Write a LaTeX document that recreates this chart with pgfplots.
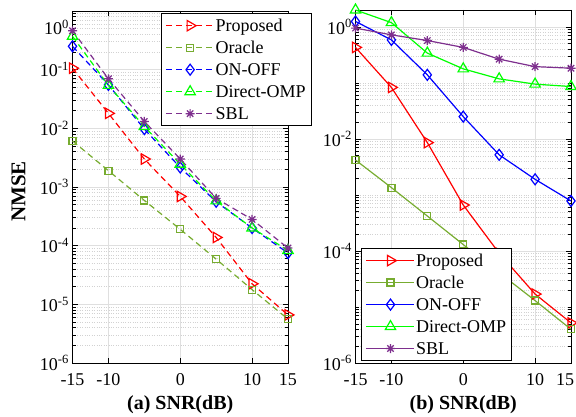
\documentclass[border=0pt]{standalone}
\usepackage{fontspec}
\setmainfont{Liberation Serif}
\usepackage{pgfplots}
\pgfplotsset{compat=1.18}
\definecolor{oracle}{rgb}{0.466,0.674,0.188}
\definecolor{sbl}{rgb}{0.494,0.184,0.556}
\pgfdeclareplotmark{ast8}{%
  \pgfpathmoveto{\pgfqpoint{-\pgfplotmarksize}{0pt}}\pgfpathlineto{\pgfqpoint{\pgfplotmarksize}{0pt}}%
  \pgfpathmoveto{\pgfqpoint{0pt}{-\pgfplotmarksize}}\pgfpathlineto{\pgfqpoint{0pt}{\pgfplotmarksize}}%
  \pgfpathmoveto{\pgfqpoint{-0.707\pgfplotmarksize}{-0.707\pgfplotmarksize}}\pgfpathlineto{\pgfqpoint{0.707\pgfplotmarksize}{0.707\pgfplotmarksize}}%
  \pgfpathmoveto{\pgfqpoint{-0.707\pgfplotmarksize}{0.707\pgfplotmarksize}}\pgfpathlineto{\pgfqpoint{0.707\pgfplotmarksize}{-0.707\pgfplotmarksize}}%
  \pgfusepathqstroke}
\tikzset{
  pprop/.style={red, line width=1.2pt, mark=triangle, mark size=6pt, mark options={solid, rotate=-90}},
  porac/.style={oracle, line width=1.2pt, mark=square, mark size=3.5pt, mark options={solid}},
  ponoff/.style={blue, line width=1.2pt, mark=diamond, mark size=5.5pt, mark options={solid}},
  pomp/.style={green, line width=1.2pt, mark=triangle, mark size=6pt, mark options={solid}},
  psbl/.style={sbl, line width=1.2pt, mark=ast8, mark size=4.5pt, mark options={solid}},
  mydash/.style={dash pattern=on 6pt off 4pt},
}
\begin{document}
\begin{tikzpicture}
\useasboundingbox (0,0) rectangle (576pt,417pt);
\begin{axis}[at={(72.5pt,54pt)}, anchor=south west,
  scale only axis, width=215.5pt, height=352pt,
  ymode=log, xmin=-15, xmax=15, ymin=1e-6, ymax=1,
  clip=false,
  xtick={-15,-10,0,10,15}, xticklabels={-15,-10,0,10,15},
  grid=both,
  major grid style={gray!25, line width=0.6pt},
  minor grid style={gray!35, dotted, line width=0.5pt},
  axis line style={line width=0.8pt},
  tick style={black, line width=0.6pt},
  major tick length=5pt, minor tick length=3pt,
  ticklabel style={font=\fontsize{18}{20}\selectfont},
  xticklabel style={yshift=-7pt},
  legend cell align=left,
  legend image code/.code={\draw[mark repeat=2,mark phase=2] plot coordinates {(0pt,0pt) (24pt,0pt) (48pt,0pt)};},
  legend style={font=\fontsize{18}{20}\selectfont, draw=black, line width=0.8pt, fill=white,
    inner xsep=4.5pt, inner ysep=1pt, nodes={inner xsep=1pt, inner ysep=2.5pt, text height=14.5pt, text depth=2.5pt},
    at={(0.409,0.9935)}, anchor=north west},
  ytick={1e-6,1e-5,1e-4,1e-3,1e-2,1e-1,1},
  yticklabels={10\textsuperscript{-6},10\textsuperscript{-5},10\textsuperscript{-4},10\textsuperscript{-3},10\textsuperscript{-2},10\textsuperscript{-1},\raisebox{-24pt}[0pt][0pt]{10\textsuperscript{0}}},
  minor ytick={2e-6,3e-6,4e-6,5e-6,6e-6,7e-6,8e-6,9e-6,
    2e-5,3e-5,4e-5,5e-5,6e-5,7e-5,8e-5,9e-5,
    2e-4,3e-4,4e-4,5e-4,6e-4,7e-4,8e-4,9e-4,
    2e-3,3e-3,4e-3,5e-3,6e-3,7e-3,8e-3,9e-3,
    2e-2,3e-2,4e-2,5e-2,6e-2,7e-2,8e-2,9e-2,
    2e-1,3e-1,4e-1,5e-1,6e-1,7e-1,8e-1,9e-1},
  xlabel={(a) SNR(dB)}, ylabel={NMSE},
  xlabel style={at={(axis description cs:0.5,-0.119)}, anchor=center, font=\bfseries\fontsize{20}{22}\selectfont},
  ylabel style={at={(axis description cs:-0.2506,0.487)}, anchor=center, font=\bfseries\fontsize{21}{23}\selectfont},
]
\addplot[pprop, mydash] coordinates {(-15,0.106)(-10,0.018)(-5,0.0030)(0,6.9e-4)(5,1.38e-4)(10,2.24e-5)(15,6.6e-6)};
\addlegendentry{Proposed}
\addplot[porac, mydash] coordinates {(-15,6.1e-3)(-10,1.9e-3)(-5,5.9e-4)(0,1.9e-4)(5,5.9e-5)(10,1.78e-5)(15,5.6e-6)};
\addlegendentry{Oracle}
\addplot[ponoff, mydash] coordinates {(-15,0.25)(-10,0.055)(-5,0.0097)(0,2.15e-3)(5,5.6e-4)(10,2.0e-4)(15,7.5e-5)};
\addlegendentry{ON-OFF}
\addplot[pomp, mydash] coordinates {(-15,0.37)(-10,0.054)(-5,0.0107)(0,2.45e-3)(5,5.8e-4)(10,2.0e-4)(15,8.3e-5)};
\addlegendentry{Direct-OMP}
\addplot[psbl, mydash] coordinates {(-15,0.46)(-10,0.070)(-5,0.0131)(0,3.0e-3)(5,6.4e-4)(10,2.8e-4)(15,9.1e-5)};
\addlegendentry{SBL}
\end{axis}
\begin{axis}[at={(355.5pt,54pt)}, anchor=south west,
  scale only axis, width=215.5pt, height=353pt,
  ymode=log, xmin=-15, xmax=15, ymin=1e-6, ymax=2,
  clip=false,
  xtick={-15,-10,0,10,15}, xticklabels={-15,-10,0,10,\hspace*{-12pt}15},
  grid=both,
  major grid style={gray!25, line width=0.6pt},
  minor grid style={gray!35, dotted, line width=0.5pt},
  axis line style={line width=0.8pt},
  tick style={black, line width=0.6pt},
  major tick length=5pt, minor tick length=3pt,
  ticklabel style={font=\fontsize{18}{20}\selectfont},
  xticklabel style={yshift=-7pt},
  legend cell align=left,
  legend image code/.code={\draw[mark repeat=2,mark phase=2] plot coordinates {(0pt,0pt) (24pt,0pt) (48pt,0pt)};},
  legend style={font=\fontsize{18}{20}\selectfont, draw=black, line width=0.8pt, fill=white,
    inner xsep=4.5pt, inner ysep=1pt, nodes={inner xsep=1pt, inner ysep=2.5pt, text height=14.5pt, text depth=2.5pt},
    at={(0.0255,0.0057)}, anchor=south west},
  ytick={1e-6,1e-4,1e-2,1},
  yticklabels={10\textsuperscript{-6},10\textsuperscript{-4},10\textsuperscript{-2},10\textsuperscript{0}},
  minor ytick={2e-6,3e-6,4e-6,5e-6,6e-6,7e-6,8e-6,9e-6,1e-5,
    2e-5,3e-5,4e-5,5e-5,6e-5,7e-5,8e-5,9e-5,
    2e-4,3e-4,4e-4,5e-4,6e-4,7e-4,8e-4,9e-4,1e-3,
    2e-3,3e-3,4e-3,5e-3,6e-3,7e-3,8e-3,9e-3,
    2e-2,3e-2,4e-2,5e-2,6e-2,7e-2,8e-2,9e-2,1e-1,
    2e-1,3e-1,4e-1,5e-1,6e-1,7e-1,8e-1,9e-1},
  xlabel={(b) SNR(dB)},
  xlabel style={at={(axis description cs:0.5,-0.119)}, anchor=center, font=\bfseries\fontsize{20}{22}\selectfont},
]
\addplot[pprop] coordinates {(-15,0.43)(-10,0.083)(-5,0.0086)(0,6.6e-4)(5,9.1e-5)(10,1.7e-5)(15,5.2e-6)};
\addlegendentry{Proposed}
\addplot[porac] coordinates {(-15,4.2e-3)(-10,1.35e-3)(-5,4.2e-4)(0,1.3e-4)(5,4.1e-5)(10,1.3e-5)(15,4.0e-6)};
\addlegendentry{Oracle}
\addplot[ponoff] coordinates {(-15,1.25)(-10,0.585)(-5,0.139)(0,0.025)(5,5.2e-3)(10,1.9e-3)(15,7.8e-4)};
\addlegendentry{ON-OFF}
\addplot[pomp] coordinates {(-15,2.0)(-10,1.19)(-5,0.34)(0,0.178)(5,0.118)(10,0.095)(15,0.086)};
\addlegendentry{Direct-OMP}
\addplot[psbl] coordinates {(-15,0.95)(-10,0.72)(-5,0.57)(0,0.43)(5,0.265)(10,0.195)(15,0.183)};
\addlegendentry{SBL}
\end{axis}
\end{tikzpicture}
\end{document}
